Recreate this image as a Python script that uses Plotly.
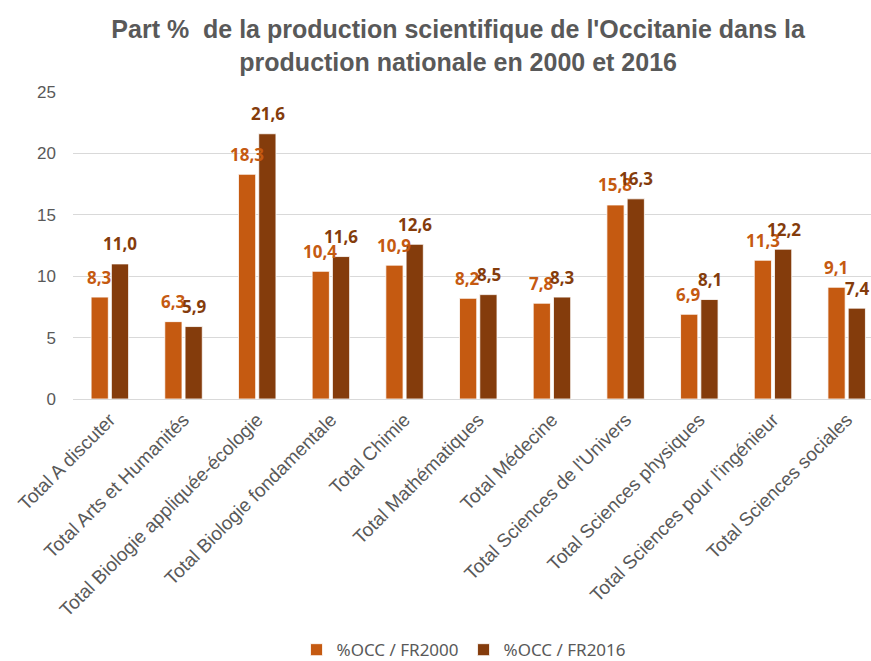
import plotly.graph_objects as go

categories = [
    "Total A discuter",
    "Total Arts et Humanités",
    "Total Biologie appliquée-écologie",
    "Total Biologie fondamentale",
    "Total Chimie",
    "Total Mathématiques",
    "Total Médecine",
    "Total Sciences de l'Univers",
    "Total Sciences physiques",
    "Total Sciences pour l'ingénieur",
    "Total Sciences sociales",
]
occ_2000 = [8.3, 6.3, 18.3, 10.4, 10.9, 8.2, 7.8, 15.8, 6.9, 11.3, 9.1]
occ_2016 = [11.0, 5.9, 21.6, 11.6, 12.6, 8.5, 8.3, 16.3, 8.1, 12.2, 7.4]
y_ticks = [0, 5, 10, 15, 20, 25]

ORANGE = '#C55A11'
BROWN = '#843C0C'
GREY = '#595959'

fig = go.Figure()

fig.add_trace(go.Bar(
    x=categories, y=occ_2000, name='%OCC / FR2000',
    marker=dict(color=ORANGE, line=dict(color='rgba(255,255,255,0.8)', width=1)),
))
fig.add_trace(go.Bar(
    x=categories, y=occ_2016, name='%OCC / FR2016',
    marker=dict(color=BROWN, line=dict(color='rgba(255,255,255,0.8)', width=1)),
))

# data labels (Excel style: comma decimal, above each bar)
for series, color, shift in [(occ_2000, ORANGE, -10.5), (occ_2016, BROWN, 10.5)]:
    for cat, val in zip(categories, series):
        fig.add_annotation(
            x=cat, y=val, text=f"{val:.1f}".replace('.', ','),
            showarrow=False, xshift=shift, yshift=20, yanchor='middle',
            font=dict(family='Noto Sans', size=17, color=color, weight='bold'),
        )

fig.update_layout(
    width=871, height=661,
    paper_bgcolor='white', plot_bgcolor='white',
    barmode='group', bargap=0.45, bargroupgap=0.15,
    title=dict(
        text="Part %  de la production scientifique de l'Occitanie dans la<br>production nationale en 2000 et 2016",
        x=0.526, xanchor='center', y=0.942, yanchor='middle',
        font=dict(family='Liberation Sans', size=25, color=GREY, weight='bold'),
    ),
    font=dict(family='Liberation Sans', color=GREY),
    margin=dict(l=73, r=0, t=92, b=262, autoexpand=False),
    xaxis=dict(
        type='category', range=[-0.5, 10.33], tickangle=-45, automargin=False,
        tickfont=dict(family='Liberation Sans', size=19, color=GREY),
        ticklabelstandoff=5,
        showgrid=False, showline=False, ticks='',
    ),
    yaxis=dict(
        range=[0, 25], tickvals=y_ticks, showgrid=True, gridcolor='#D9D9D9',
        gridwidth=1, zeroline=True, zerolinecolor='#D9D9D9', zerolinewidth=1,
        tickfont=dict(family='Liberation Sans', size=17, color=GREY),
        ticklabelstandoff=16, automargin=False,
    ),
    legend=dict(
        orientation='h', x=0.49, xanchor='center', y=-0.818, yanchor='middle',
        font=dict(family='Noto Sans', size=17, color=GREY),
        itemwidth=30, traceorder='normal',
    ),
    showlegend=True,
)

# drop the browser's default page margin so the figure fills the window
fig.write_html("out.html", config={'displayModeBar': False},
               post_script="document.body.style.margin='0';")
